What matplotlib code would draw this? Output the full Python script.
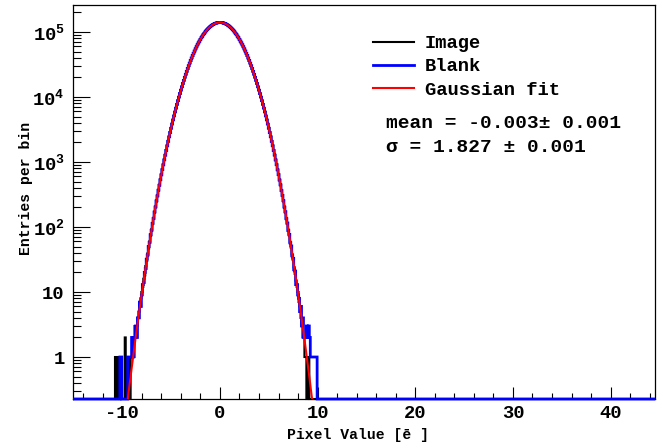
import numpy as np
import matplotlib
matplotlib.use('Agg')
import matplotlib.pyplot as plt
from matplotlib.ticker import MultipleLocator, FixedLocator, FixedFormatter, LogLocator, NullFormatter

MONO = ['Liberation Mono', 'DejaVu Sans Mono']
plt.rcParams['font.family'] = MONO
plt.rcParams['font.weight'] = 'bold'
plt.rcParams['axes.unicode_minus'] = False
plt.rcParams['mathtext.fontset'] = 'custom'
plt.rcParams['mathtext.rm'] = 'Liberation Mono:bold'
plt.rcParams['mathtext.default'] = 'rm'

# Histogram binning (pixel value, electrons)
hist_lo, hist_hi, bin_width = -15.05, 44.55, 0.1
first_center = -11.0   # centre of the first bin listed below

# Image histogram, bin centres -11.0 .. 10.0
image_counts = [
    0, 0, 0, 1, 0, 0, 1, 0, 0, 1,
    0, 0, 0, 2, 0, 1, 0, 1, 0, 1,
    1, 2, 1, 3, 2, 3, 4, 5, 6, 8,
    10, 12, 16, 18, 25, 30, 39, 47, 60, 73,
    92, 111, 138, 167, 206, 249, 304, 365, 443, 530,
    638, 760, 908, 1077, 1278, 1506, 1776, 2082, 2440, 2844,
    3311, 3838, 4440, 5116, 5884, 6740, 7704, 8774, 9968, 11290,
    12740, 14340, 16100, 18010, 20100, 22340, 24780, 27390, 30190, 33180,
    36360, 39720, 43260, 46970, 50860, 54900, 59080, 63380, 67810, 72310,
    76900, 81520, 86170, 90810, 95410, 99940, 104400, 108700, 112800, 116800,
    120500, 124000, 127200, 130100, 132700, 134900, 136700, 138100, 139200, 139800,
    140000, 139800, 139200, 138100, 136700, 134900, 132700, 130100, 127200, 124000,
    120500, 116800, 112800, 108700, 104400, 99940, 95410, 90810, 86170, 81530,
    76900, 72310, 67810, 63390, 59070, 54900, 50860, 46980, 43260, 39720,
    36360, 33180, 30190, 27390, 24780, 22350, 20100, 18010, 16100, 14340,
    12740, 11290, 9967, 8775, 7703, 6741, 5883, 5117, 4439, 3839,
    3310, 2845, 2439, 2083, 1775, 1507, 1277, 1078, 907, 761,
    637, 531, 442, 366, 303, 250, 205, 168, 137, 112,
    91, 74, 59, 48, 38, 31, 24, 19, 15, 12,
    10, 7, 6, 4, 3, 2, 2, 1, 1, 0,
    0, 1, 0, 0, 0, 0, 0, 0, 0, 0,
    0,
]

# Blank histogram, same bins
blank_counts = [
    0, 0, 0, 0, 0, 0, 0, 0, 1, 1,
    0, 0, 0, 0, 0, 0, 1, 1, 1, 1,
    2, 1, 2, 2, 3, 2, 4, 4, 7, 6,
    9, 13, 14, 20, 23, 32, 37, 50, 58, 76,
    89, 114, 135, 170, 203, 252, 301, 368, 440, 533,
    635, 763, 905, 1080, 1275, 1509, 1773, 2085, 2437, 2847,
    3308, 3841, 4437, 5119, 5881, 6743, 7701, 8777, 9965, 11290,
    12750, 14330, 16110, 18000, 20090, 22350, 24790, 27380, 30200, 33190,
    36350, 39730, 43250, 46980, 50850, 54910, 59070, 63390, 67800, 72320,
    76890, 81530, 86160, 90820, 95400, 99950, 104400, 108700, 112900, 116800,
    120600, 124000, 127300, 130100, 132600, 134800, 136700, 138200, 139100, 139800,
    139900, 139800, 139200, 138200, 136600, 134900, 132600, 130100, 127200, 124100,
    120500, 116700, 112800, 108600, 104400, 99950, 95400, 90820, 86160, 81520,
    76890, 72320, 67800, 63380, 59080, 54890, 50870, 46970, 43270, 39710,
    36370, 33170, 30200, 27380, 24790, 22340, 20110, 18000, 16110, 14330,
    12750, 11280, 9970, 8772, 7706, 6738, 5886, 5114, 4442, 3836,
    3313, 2842, 2442, 2080, 1778, 1504, 1280, 1075, 910, 758,
    640, 528, 445, 363, 306, 253, 202, 171, 134, 115,
    88, 77, 57, 51, 36, 33, 22, 21, 13, 13,
    9, 8, 5, 6, 3, 4, 2, 2, 2, 3,
    2, 3, 2, 1, 1, 1, 1, 1, 1, 1,
    0,
]

# Gaussian fit parameters
fit_amp = 1.40e5
fit_mean = -0.003
fit_sigma = 1.827
fit_label = ['mean = -0.003\u00b1 0.001', '\u03c3 = 1.827 \u00b1 0.001']

y_lo, y_hi = 0.226, 2.6e5

n_bins = int(round((hist_hi - hist_lo) / bin_width))
edges = hist_lo + bin_width * np.arange(n_bins + 1)
start = int(round((first_center - bin_width / 2 - hist_lo) / bin_width))


def full_hist(counts):
    h = np.zeros(n_bins)
    h[start:start + len(counts)] = counts
    # ROOT draws empty bins along the bottom of the frame
    return np.where(h > 0, h, y_lo)


fig = plt.figure(figsize=(6.63, 4.48), dpi=100)
ax = fig.add_axes([73 / 663, 1 - 399 / 448, 582 / 663, 394 / 448])

ax.stairs(full_hist(image_counts), edges, baseline=None, color='black', lw=1.5,
          label='Image', clip_on=False, zorder=2)
ax.stairs(full_hist(blank_counts), edges, baseline=None, color='#0000ff', lw=2.0,
          label='Blank', clip_on=False, zorder=3)

xf = np.linspace(hist_lo, hist_hi, 4000)
yf = fit_amp * np.exp(-0.5 * ((xf - fit_mean) / fit_sigma) ** 2)
ax.plot(xf, yf, color='#ff0000', lw=1.5, label='Gaussian fit', zorder=4)

ax.set_yscale('log')
ax.set_xlim(hist_lo, hist_hi)
ax.set_ylim(y_lo, y_hi)

ax.xaxis.set_major_locator(MultipleLocator(10))
ax.xaxis.set_minor_locator(MultipleLocator(2))
ytick_vals = [1, 10, 100, 1e3, 1e4, 1e5]
ytick_labels = ['1', '10', r'$10^{2}$', r'$10^{3}$', r'$10^{4}$', r'$10^{5}$']
ax.yaxis.set_major_locator(FixedLocator(ytick_vals))
ax.yaxis.set_major_formatter(FixedFormatter(ytick_labels))
ax.yaxis.set_minor_locator(LogLocator(base=10, subs=np.arange(2, 10), numticks=20))
ax.yaxis.set_minor_formatter(NullFormatter())

ax.tick_params(axis='both', which='both', direction='in', top=False, right=False)
ax.tick_params(axis='y', which='major', length=12, width=0.8, labelsize=13.5, pad=6)
ax.tick_params(axis='y', which='minor', length=6, width=0.8)
ax.tick_params(axis='x', which='major', length=8.5, width=0.8, labelsize=13.5, pad=4)
ax.tick_params(axis='x', which='minor', length=4.3, width=0.8)
for s in ax.spines.values():
    s.set_linewidth(0.9)

ax.set_xlabel('Pixel Value [\u0113 ]', fontsize=10.6, fontweight='bold')
ax.xaxis.set_label_coords((358 - 73) / 582, -(428 - 399) / 394)
ax.set_ylabel('Entries per bin', fontsize=10.6, fontweight='bold')
ax.yaxis.set_label_coords(-(73 - 33) / 582, (399 - 188) / 394)

ax.legend(loc='upper left', bbox_to_anchor=((373 - 73) / 582, (399 - 35) / 394),
          frameon=False, fontsize=13.5, handlelength=2.2, handletextpad=0.55,
          labelspacing=0.33, borderaxespad=0, borderpad=0)

ax.text((386 - 73) / 582, (399 - 123) / 394, fit_label[0], transform=ax.transAxes,
        fontsize=14, fontweight='bold', va='center', ha='left')
ax.text((386 - 73) / 582, (399 - 147) / 394, fit_label[1], transform=ax.transAxes,
        fontsize=14, fontweight='bold', va='center', ha='left')

fig.savefig('out.png', dpi=100)
